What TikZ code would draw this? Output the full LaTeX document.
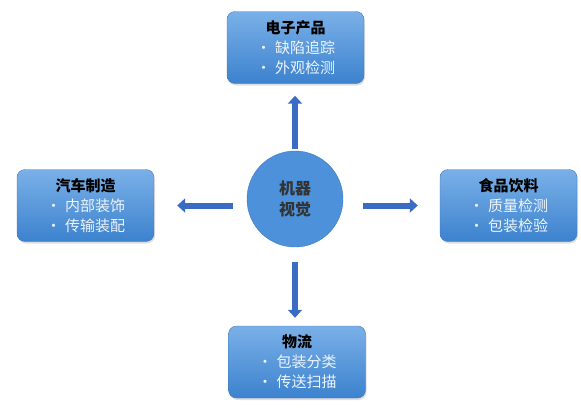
\documentclass[tikz,border=0pt]{standalone}
\usepackage{fontspec}
\usepackage{tikz}
\usetikzlibrary{arrows.meta, positioning, shadows}
\newfontfamily\cjk{Noto Sans CJK SC}
\definecolor{boxtop}{RGB}{122,176,232}
\definecolor{boxbot}{RGB}{60,130,206}
\definecolor{boxline}{RGB}{72,122,188}
\definecolor{hubfill}{RGB}{76,145,218}
\definecolor{arrowblue}{RGB}{58,108,196}
\definecolor{itemtext}{RGB}{236,244,252}
\newcommand{\itm}[1]{\makebox[19pt][l]{\textcolor{itemtext}{•}}\textcolor{itemtext}{#1}}

\begin{document}
\begin{tikzpicture}[
  x=1pt, y=-1pt,
  font=\cjk\fontsize{15}{20}\selectfont,
  box/.style={rectangle, draw=boxline, rounded corners=8pt, top color=boxtop,
              bottom color=boxbot, minimum width=137pt, minimum height=72pt,
              align=center, inner sep=1pt,
              drop shadow={shadow xshift=1pt, shadow yshift=-2pt, opacity=0.25}},
  hub/.style={circle, draw=boxline, fill=hubfill, minimum size=96pt,
              align=center, font=\cjk\bfseries\fontsize{16}{21}\selectfont,
              text=black!80},
  arrow/.style={-{Triangle[width=14pt,length=8pt]}, line width=6pt, arrowblue}
]
  \useasboundingbox (0,0) rectangle (581,410);
  % 中心
  \node[hub] (mv) at (295,199) {机器\\视觉};
  % 四个应用领域
  \node[box] (elec) at (295.5,47.5) {\textbf{电子产品}\\\itm{缺陷追踪}\\\itm{外观检测}};
  \node[box] (auto) at (85.5,205.5) {\textbf{汽车制造}\\\itm{内部装饰}\\\itm{传输装配}};
  \node[box] (food) at (508.5,205.5) {\textbf{食品饮料}\\\itm{质量检测}\\\itm{包装检验}};
  \node[box] (logi) at (297,362) {\textbf{物流}\\\itm{包装分类}\\\itm{传送扫描}};
  % 箭头
  \draw[arrow, shorten <=2pt, shorten >=12pt] (mv.north) -- (elec.south -| mv.north);
  \draw[arrow, shorten <=14pt, shorten >=23pt] (auto.east -| mv.west) -- (auto.east);
  \draw[arrow, shorten <=20pt, shorten >=22pt] (food.west -| mv.east) -- (food.west);
  \draw[arrow, shorten <=15pt, shorten >=8pt] (mv.south) -- (logi.north -| mv.south);
\end{tikzpicture}
\end{document}
